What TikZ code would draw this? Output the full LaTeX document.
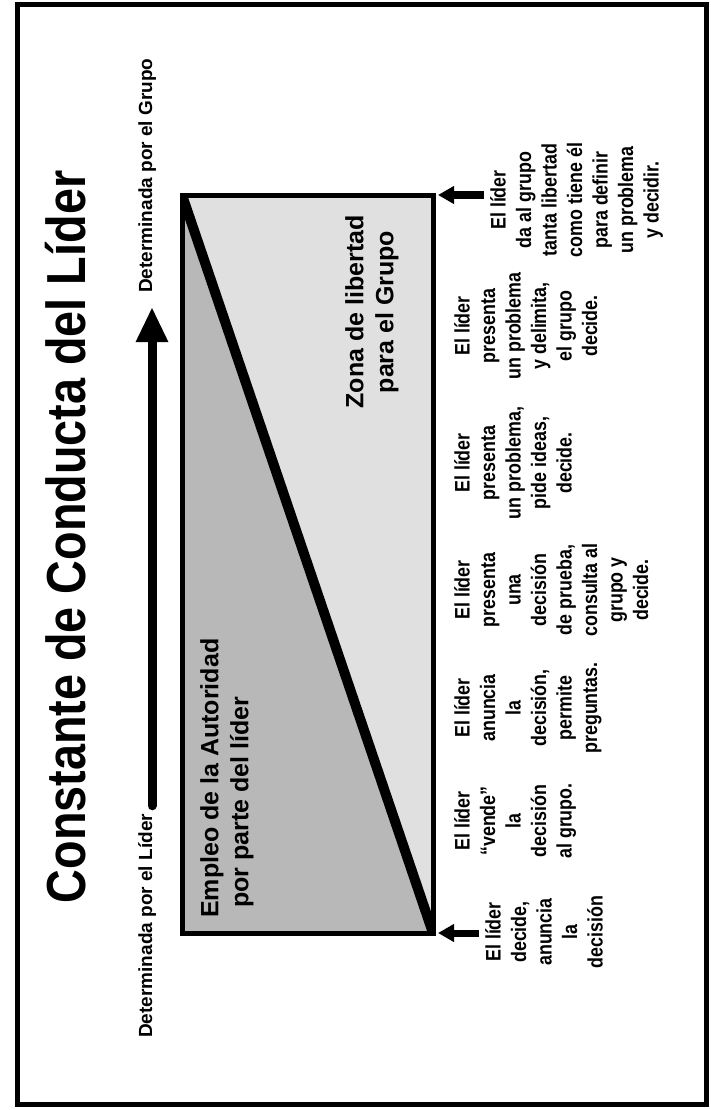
\documentclass[tikz,border=0pt]{standalone}
\usepackage{fontspec}
\setmainfont{Liberation Sans}
\newfontfamily\titlefont[FakeStretch=0.85]{Liberation Sans}
\newfontfamily\narrowfont[FakeStretch=0.85]{Liberation Sans}
\usetikzlibrary{arrows.meta}

\begin{document}
\begin{tikzpicture}[x=1pt, y=-1pt,
    col/.style={rotate=90, anchor=north, inner sep=0, align=center,
        font=\narrowfont\bfseries\fontsize{21}{25.5}\selectfont},
    zone/.style={rotate=90, inner sep=0, font=\bfseries\fontsize{25}{30}\selectfont},
    axis/.style={rotate=90, inner sep=0, font=\bfseries\fontsize{19}{22}\selectfont},
    pointer/.style={line width=7pt, -{Triangle[length=16pt,width=17pt]}, shorten <=6pt, shorten >=5pt}]
            \useasboundingbox (0,0) rectangle (711,1110);
            \draw[line width=5pt] (17,5) rectangle (706,1104);
            \node[rotate=90, anchor=base, inner sep=0, font=\titlefont\bfseries\fontsize{55}{60}\selectfont] (title) at (85,537) {Constante de Conducta del Líder};

            \node[axis, anchor=base west] (lider) at (152,1038) {Determinada por el Líder};
            \node[axis, anchor=base west] (grupo) at (152,293) {Determinada por el Grupo};
            \draw[line width=9pt, line cap=round, -{Triangle[length=35pt,width=30pt]}, shorten <=8pt, shorten >=14pt] (lider.base east) -- (grupo.base west);

            \coordinate (tl) at (182,195);
            \coordinate (tr) at (433,195);
            \coordinate (br) at (433,933);
            \coordinate (bl) at (182,933);
            \fill[black!12] (tl) -- (tr) -- (br) -- cycle;
            \fill[black!28] (tl) -- (bl) -- (br) -- cycle;
            \begin{scope}
                \clip (tl) rectangle (br);
                \draw[line width=10pt] (tl) -- (br);
            \end{scope}
            \draw[line width=5pt] (tl) rectangle (br);

            \node[zone, anchor=north west, align=left] (autoridad) at (200,918) {Empleo de la Autoridad\\\hspace*{10pt}por parte del líder};
            \node[zone, anchor=north, align=center] (libertad) at (345,312) {Zona de libertad\\para el Grupo};

            \node[col] (c1) at (485,932) {El líder\\decide,\\anuncia\\la\\decisión};
            \node[col] (c2) at (454,821) {El líder\\“vende”\\la\\decisión\\al grupo.};
            \node[col] (c3) at (454,708) {El líder\\anuncia\\la\\decisión,\\permite\\preguntas.};
            \node[col] (c4) at (454,590) {El líder\\presenta\\una\\decisión\\de prueba,\\consulta al\\grupo y\\decide.};
            \node[col] (c5) at (454,463) {El líder\\presenta\\un problema,\\pide ideas,\\decide.};
            \node[col] (c6) at (454,326) {El líder\\presenta\\un problema\\y delimita,\\el grupo\\decide.};
            \node[col] (c7) at (490,200) {El líder\\da al grupo\\tanta libertad\\como tiene él\\para definir\\un problema\\y decidir.};

            \draw[pointer] (c7.north |- tr) -- (tr);
            \draw[pointer] (c1.north |- br) -- (br);
            \end{tikzpicture}
\end{document}
